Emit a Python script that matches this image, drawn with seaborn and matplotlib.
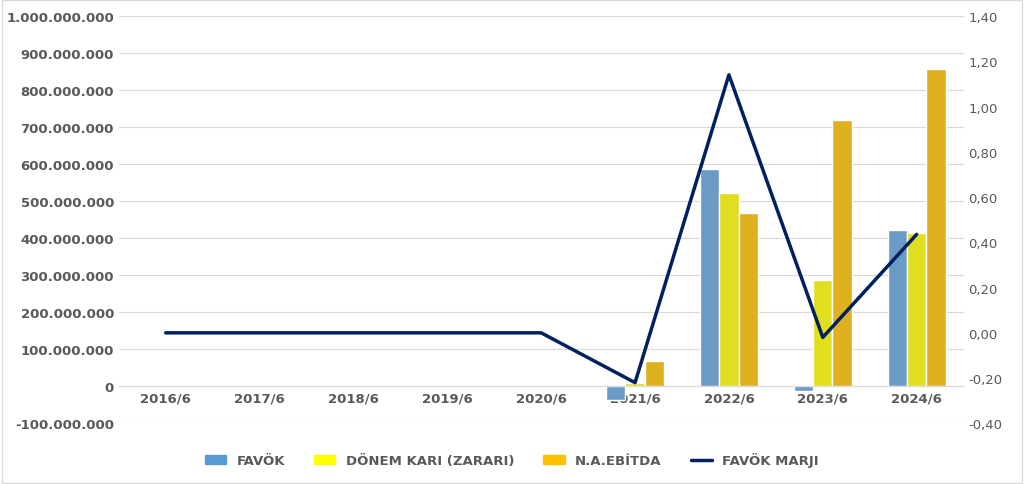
import numpy as np
import pandas as pd
import matplotlib.pyplot as plt
import seaborn as sns
from matplotlib.ticker import FuncFormatter

years = ['2016/6', '2017/6', '2018/6', '2019/6', '2020/6', '2021/6', '2022/6', '2023/6', '2024/6']
favok = [0, 0, 0, 0, 0, -38e6, 587e6, -12e6, 422e6]
donem_kari = [0, 0, 0, 0, 0, 10e6, 522e6, 287e6, 415e6]
na_ebitda = [0, 0, 0, 0, 0, 68e6, 468e6, 718e6, 858e6]
favok_marji = [0, 0, 0, 0, 0, -0.22, 1.14, -0.02, 0.435]

series_names = ['FAVÖK', 'DÖNEM KARI (ZARARI)', 'N.A.EBİTDA']
colors = ['#5B9BD5', '#FFFF00', '#FFC000']

df = pd.DataFrame({
    'year': years * 3,
    'value': favok + donem_kari + na_ebitda,
    'series': [s for s in series_names for _ in years],
})

sns.set_style('white')
plt.rcParams['font.family'] = ['DejaVu Sans']

fig = plt.figure(figsize=(10.24, 4.85), dpi=100)
ax = fig.add_axes([0.116, 0.125, 0.825, 0.84])
sns.barplot(data=df, x='year', y='value', hue='series', palette=colors,
            width=0.62, ax=ax, legend=False)
ax.set_ylim(-100e6, 1000e6)
ax.set_yticks(np.arange(-100e6, 1000e6 + 1, 100e6))
ax.yaxis.set_major_formatter(FuncFormatter(lambda v, p: f'{v:,.0f}'.replace(',', '.')))
ax.grid(axis='y', color='#d9d9d9', linewidth=0.8)
ax.set_axisbelow(True)
ax.set_xlabel('')
ax.set_ylabel('')
for s in ['top', 'right', 'left']:
    ax.spines[s].set_visible(False)
ax.spines['bottom'].set_position(('data', 0))
ax.spines['bottom'].set_color('#d9d9d9')
ax.tick_params(axis='both', length=0, labelsize=9.5, colors='#595959')
for lbl in ax.get_xticklabels() + ax.get_yticklabels():
    lbl.set_fontweight('bold')
ax.set_xlim(-0.5, len(years) - 0.5)

ax2 = ax.twinx()
ax2.plot(range(len(years)), favok_marji, color='#002060', linewidth=2.5)
ax2.set_ylim(-0.4, 1.4)
ax2.set_yticks(np.arange(-0.4, 1.41, 0.2))
ax2.yaxis.set_major_formatter(FuncFormatter(lambda v, p: f'{v:.2f}'.replace('.', ',')))
for s in ax2.spines.values():
    s.set_visible(False)
ax2.tick_params(axis='y', length=0, labelsize=9.5, colors='#595959')

from matplotlib.patches import Patch
from matplotlib.lines import Line2D
handles = [Patch(color=c) for c in colors] + [Line2D([], [], color='#002060', lw=2.5)]
leg = fig.legend(handles, series_names + ['FAVÖK MARJI'], loc='lower center',
                 bbox_to_anchor=(0.5, 0.01), ncol=4, frameon=False,
                 prop={'size': 9.5, 'weight': 'bold'}, handlelength=1.6, columnspacing=2.2)
for t in leg.get_texts():
    t.set_color('#595959')

fig.patches.append(plt.Rectangle((0.002, 0.002), 0.996, 0.996, transform=fig.transFigure,
                                 fill=False, edgecolor='#d9d9d9', linewidth=1))
fig.savefig('out.png', dpi=100)
